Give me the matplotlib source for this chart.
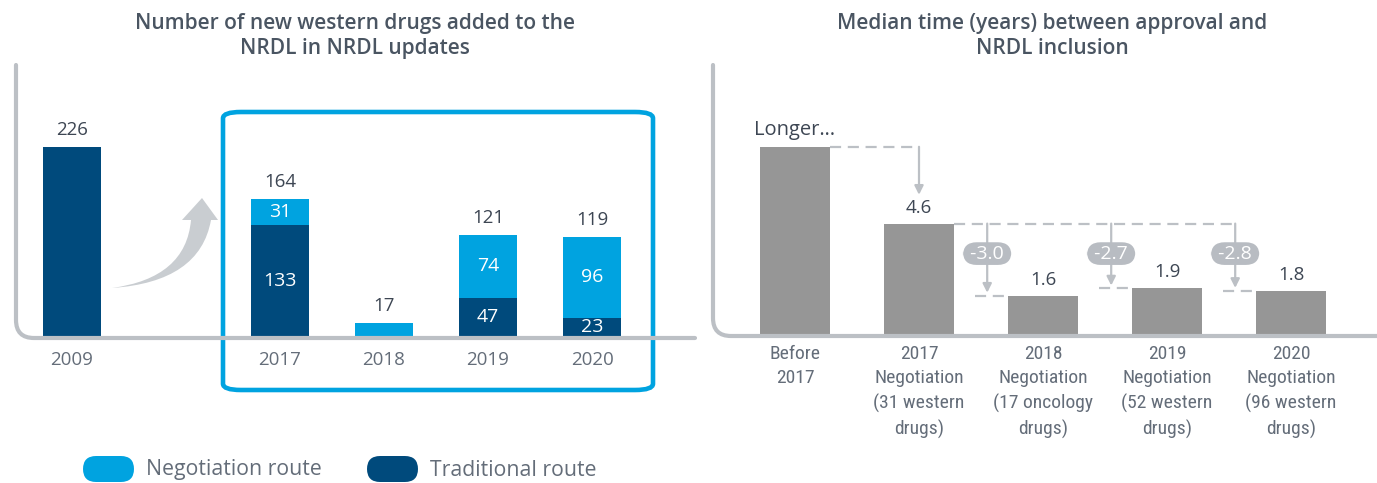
import matplotlib.pyplot as plt
from matplotlib import font_manager
from matplotlib.patches import FancyBboxPatch, PathPatch
from matplotlib.path import Path

# NRDL chart data
years = ['2009', '2017', '2018', '2019', '2020']
year_pos = [0, 2, 3, 4, 5]
traditional = [226, 133, 0, 47, 23]
negotiation = [0, 31, 17, 74, 96]

rounds = ['Before\n2017', '2017\nNegotiation\n(31 western\ndrugs)',
          '2018\nNegotiation\n(17 oncology\ndrugs)', '2019\nNegotiation\n(52 western\ndrugs)',
          '2020\nNegotiation\n(96 western\ndrugs)']
median_years = [7.8, 4.6, 1.6, 1.9, 1.8]
median_labels = ['Longer\u2026', '4.6', '1.6', '1.9', '1.8']

LIGHT = '#00a3e0'
DARK = '#004a7c'
GREY_BAR = '#969696'
LINE = '#bcc0c5'
TEXT = '#3d4653'
TICK = '#646d79'

plt.rcParams['font.family'] = ['Open Sans', 'DejaVu Sans']

# narrow face for the long category labels, if one is around
names = {f.name for f in font_manager.fontManager.ttflist}
narrow = dict(family=['Open Sans'], fontsize=12, stretch='normal')
for cand in ['Liberation Sans Narrow', 'Roboto Condensed', 'Open Sans Condensed']:
    if cand in names:
        narrow = dict(family=[cand], fontsize=14, stretch='normal')
        break
else:
    if any(f.name == 'DejaVu Sans' and f.stretch == 'condensed'
           for f in font_manager.fontManager.ttflist):
        narrow = dict(family=['DejaVu Sans'], fontsize=12.5, stretch='condensed')

W, H = 1377, 483
fig = plt.figure(figsize=(W / 100, H / 100), dpi=100)


def fx(x):
    return x / W


def fy(y):
    return (H - y) / H


def frame(x0, y_top, y_base, x1, r=18):
    verts = [(fx(x0), fy(y_top)), (fx(x0), fy(y_base - r)), (fx(x0), fy(y_base)),
             (fx(x0 + r), fy(y_base)), (fx(x1), fy(y_base))]
    codes = [Path.MOVETO, Path.LINETO, Path.CURVE3, Path.CURVE3, Path.LINETO]
    fig.patches.append(PathPatch(Path(verts, codes), transform=fig.transFigure,
                                 fill=False, edgecolor=LINE, lw=3, capstyle='round',
                                 zorder=5))


# ---- left panel: new drugs per update ----
scale1 = 0.84
ax1 = fig.add_axes([fx(16), fy(337), fx(680), 272 / H])
ax1.set_xlim(-(72 - 16) / 104, (696 - 72) / 104)
ax1.set_ylim(0, 272 / scale1)
ax1.axis('off')
w = 0.56
ax1.bar(year_pos, traditional, width=w, color=DARK)
ax1.bar(year_pos, negotiation, width=w, bottom=traditional, color=LIGHT)
for x, t, n, lab in zip(year_pos, traditional, negotiation, years):
    ax1.annotate(str(t + n), (x, t + n), xytext=(0, 8), textcoords='offset pixels',
                 ha='center', va='bottom', fontsize=13.5, color=TEXT)
    if t > 0 and n > 0:
        ax1.text(x, t / 2, str(t), ha='center', va='center', fontsize=14, color='white')
        ax1.text(x, t + n / 2, str(n), ha='center', va='center', fontsize=14, color='white')
    ax1.annotate(lab, (x, 0), xytext=(0, -23), textcoords='offset pixels',
                 ha='center', va='center', fontsize=13.5, color=TICK)
frame(16, 65, 338, 695)

# highlight box around the negotiation years
fig.patches.append(FancyBboxPatch((fx(223), fy(390)), fx(430), 278 / H,
                                  boxstyle='round,pad=0,rounding_size=0.013',
                                  transform=fig.transFigure, fill=False,
                                  edgecolor=LIGHT, lw=3.3))

# curved grey arrow
pts = [(112, 288), (200, 282), (211, 220), (218, 220), (202, 198), (182, 220),
       (191, 220), (186, 278), (112, 288)]
codes = [Path.MOVETO, Path.CURVE3, Path.CURVE3, Path.LINETO, Path.LINETO, Path.LINETO,
         Path.LINETO, Path.CURVE3, Path.CURVE3]
fig.patches.append(PathPatch(Path([(fx(a), fy(b)) for a, b in pts], codes),
                             transform=fig.transFigure, facecolor='#c9cdd1',
                             edgecolor='none'))

fig.text(fx(355), fy(36), 'Number of new western drugs added to the\nNRDL in NRDL updates',
         ha='center', va='center', fontsize=15, fontweight='semibold', color='#4a5562',
         linespacing=1.25)

# legend
for x0, col, lab in [(83, LIGHT, 'Negotiation route'), (367, DARK, 'Traditional route')]:
    fig.patches.append(FancyBboxPatch((fx(x0), fy(482)), fx(51), 26 / H,
                                      boxstyle='round,pad=0,rounding_size=0.0095',
                                      transform=fig.transFigure, facecolor=col,
                                      edgecolor='none', mutation_aspect=W / H))
    fig.text(fx(x0 + 63), fy(470), lab, ha='left', va='center', fontsize=15.3, color=TICK)

# ---- right panel: median time to inclusion ----
scale2 = 24
ax2 = fig.add_axes([fx(713), fy(334), fx(664), 269 / H])
ax2.set_xlim(-(795 - 713) / 124, (1377 - 795) / 124)
ax2.set_ylim(0, 269 / scale2)
ax2.axis('off')
pos2 = list(range(len(rounds)))
ax2.bar(pos2, median_years, width=w, color=GREY_BAR)
for x, v, lab, name in zip(pos2, median_years, median_labels, rounds):
    ax2.annotate(lab, (x, v), xytext=(0, 7), textcoords='offset pixels',
                 ha='center', va='bottom', fontsize=14.5 if x == 0 else 13.5, color=TEXT)
    ax2.annotate(name, (x, 0), xytext=(0, -11), textcoords='offset pixels',
                 ha='center', va='top', color=TICK, linespacing=1.45, **narrow)
frame(713, 65, 336, 1377)

dash = dict(color=LINE, lw=1.6, ls=(0, (5, 3)))
arrow = dict(arrowstyle='-|>', color=LINE, lw=1.6, mutation_scale=13,
             shrinkA=0, shrinkB=0)

# before 2017 -> 2017
ax2.plot([w / 2, 1], [median_years[0]] * 2, **dash)
ax2.annotate('', xy=(1, 5.8), xytext=(1, median_years[0]), arrowprops=arrow)

# 2017 -> later rounds
base = median_years[1]
ax2.plot([1 + w / 2, 4 - w / 2 - 0.17], [base] * 2, **dash)
for i in range(2, len(rounds)):
    v = median_years[i]
    xa = i - w / 2 - 0.17
    ax2.annotate('', xy=(xa, v + 0.12), xytext=(xa, base), arrowprops=arrow)
    ax2.plot([xa - 0.1, i - w / 2], [v, v], **dash)
    ax2.text(xa, 3.35, f' {v - base:.1f} ', ha='center', va='center', fontsize=14,
             color='white', zorder=6,
             bbox=dict(boxstyle='round,pad=0.12,rounding_size=0.7', fc='#b8bcc2',
                       ec='none'))

fig.text(fx(1052), fy(36), 'Median time (years) between approval and\nNRDL inclusion',
         ha='center', va='center', fontsize=15, fontweight='semibold', color='#4a5562',
         linespacing=1.25)

fig.savefig('out.png', dpi=100)
